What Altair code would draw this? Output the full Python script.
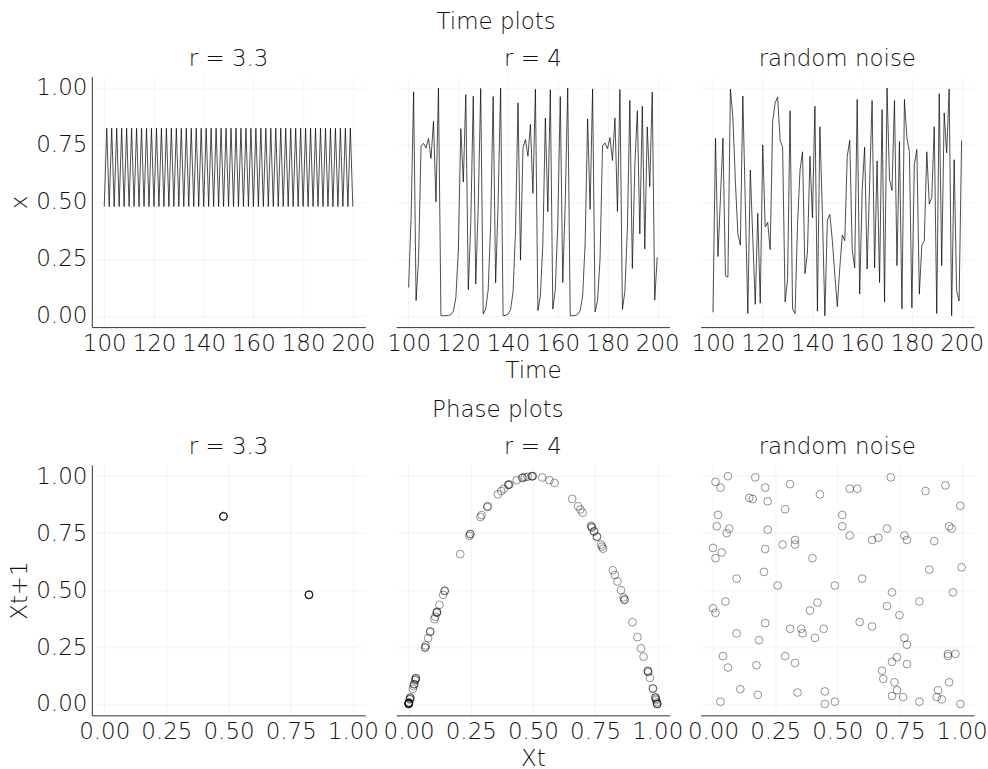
import altair as alt
import pandas as pd

# Time index of the plotted iterations
TIME = list(range(100, 201))

# Logistic map, r = 3.3 (settled period-2 cycle)
R33 = [
    0.4794, 0.8236, 0.4794, 0.8236, 0.4794, 0.8236, 0.4794, 0.8236, 0.4794, 0.8236,
    0.4794, 0.8236, 0.4794, 0.8236, 0.4794, 0.8236, 0.4794, 0.8236, 0.4794, 0.8236,
    0.4794, 0.8236, 0.4794, 0.8236, 0.4794, 0.8236, 0.4794, 0.8236, 0.4794, 0.8236,
    0.4794, 0.8236, 0.4794, 0.8236, 0.4794, 0.8236, 0.4794, 0.8236, 0.4794, 0.8236,
    0.4794, 0.8236, 0.4794, 0.8236, 0.4794, 0.8236, 0.4794, 0.8236, 0.4794, 0.8236,
    0.4794, 0.8236, 0.4794, 0.8236, 0.4794, 0.8236, 0.4794, 0.8236, 0.4794, 0.8236,
    0.4794, 0.8236, 0.4794, 0.8236, 0.4794, 0.8236, 0.4794, 0.8236, 0.4794, 0.8236,
    0.4794, 0.8236, 0.4794, 0.8236, 0.4794, 0.8236, 0.4794, 0.8236, 0.4794, 0.8236,
    0.4794, 0.8236, 0.4794, 0.8236, 0.4794, 0.8236, 0.4794, 0.8236, 0.4794, 0.8236,
    0.4794, 0.8236, 0.4794, 0.8236, 0.4794, 0.8236, 0.4794, 0.8236, 0.4794, 0.8236,
    0.4794,
]

# Logistic map, r = 4 (chaotic)
R4 = [
    0.124, 0.435, 0.983, 0.0665, 0.248, 0.746, 0.757, 0.736, 0.778, 0.691,
    0.854, 0.500, 1.000, 0.0000, 0.0001, 0.0003, 0.0013, 0.0050, 0.0200, 0.0785,
    0.289, 0.821, 0.587, 0.9705, 0.1144, 0.405, 0.964, 0.139, 0.479, 0.998,
    0.0073, 0.029, 0.113, 0.400, 0.9625, 0.1445, 0.495, 0.9999, 0.0004, 0.0017,
    0.0067, 0.0267, 0.104, 0.3725, 0.9348, 0.2439, 0.7377, 0.774, 0.700, 0.840,
    0.5376, 0.9943, 0.0224, 0.0873, 0.3187, 0.8685, 0.457, 0.9926, 0.0292, 0.1136,
    0.4027, 0.9621, 0.1457, 0.4978, 1.0000, 0.0001, 0.0003, 0.0014, 0.0056, 0.0221,
    0.0865, 0.3161, 0.8647, 0.4674, 0.9958, 0.0169, 0.0664, 0.248, 0.7459, 0.7582,
    0.7334, 0.7821, 0.6817, 0.868, 0.4584, 0.9931, 0.0276, 0.1072, 0.3829, 0.9451,
    0.2076, 0.658, 0.9003, 0.3589, 0.9203, 0.2934, 0.8293, 0.5663, 0.9824, 0.069,
    0.257,
]

# Uniform random noise for comparison
NOISE = [
    0.015, 0.78, 0.26, 0.52, 0.78, 0.175, 0.17, 0.995, 0.87, 0.59,
    0.36, 0.31, 0.965, 0.49, 0.01, 0.64, 0.34, 0.05, 0.45, 0.055,
    0.75, 0.39, 0.41, 0.29, 0.855, 0.935, 0.96, 0.77, 0.74, 0.06,
    0.16, 0.90, 0.03, 0.01, 0.40, 0.64, 0.72, 0.185, 0.28, 0.70,
    0.43, 0.92, 0.02, 0.83, 0.45, 0.00, 0.42, 0.445, 0.33, 0.18,
    0.04, 0.21, 0.355, 0.33, 0.70, 0.77, 0.29, 0.21, 0.95, 0.095,
    0.55, 0.74, 0.205, 0.58, 0.945, 0.21, 0.68, 0.146, 0.905, 0.06,
    1.00, 0.60, 0.55, 0.945, 0.22, 0.765, 0.03, 0.95, 0.78, 0.72,
    0.035, 0.665, 0.73, 0.095, 0.31, 0.33, 0.72, 0.49, 0.52, 0.83,
    0.01, 0.975, 0.22, 0.89, 0.715, 0.995, 0.00, 0.685, 0.11, 0.065,
    0.77,
]

PANEL_TITLES = ["r = 3.3", "r = 4", "random noise"]
SERIES = [R33, R4, NOISE]
# the r = 3.3 cycle stacks 50 circles on each of its two points
POINT_OPACITY = [0.06, 0.7, 0.7]

TIME_TICKS = [100, 120, 140, 160, 180, 200]
UNIT_TICKS = [0.0, 0.25, 0.5, 0.75, 1.0]

FONT = "DejaVu Sans"
WEIGHT = 200
FS = 23
TXT = "#111111"
W, H = 274, 251


def y_axis(show, title):
    if show:
        return alt.Axis(values=UNIT_TICKS, format=".2f", title=title,
                        domain=True, labels=True)
    return alt.Axis(values=UNIT_TICKS, title=None, domain=False, labels=False)


def time_panel(values, name, i):
    df = pd.DataFrame({"Time": TIME, "x": values})
    return alt.Chart(df).mark_line(color="black", strokeWidth=0.7).encode(
        x=alt.X("Time:Q", scale=alt.Scale(domain=[95, 205], nice=False, zero=False),
                axis=alt.Axis(values=TIME_TICKS, format="d",
                              title="Time" if i == 1 else None)),
        y=alt.Y("x:Q", scale=alt.Scale(domain=[-0.05, 1.05], nice=False),
                axis=y_axis(i == 0, "x")),
    ).properties(width=W, height=H, title=name)


def phase_panel(values, name, i):
    df = pd.DataFrame({"Xt": values[:-1], "Xt1": values[1:]})
    return alt.Chart(df).mark_point(
        shape="circle", filled=False, color="black", size=60,
        strokeWidth=0.6, opacity=POINT_OPACITY[i],
    ).encode(
        x=alt.X("Xt:Q", scale=alt.Scale(domain=[-0.05, 1.05], nice=False),
                axis=alt.Axis(values=UNIT_TICKS, format=".2f",
                              title="Xt" if i == 1 else None)),
        y=alt.Y("Xt1:Q", scale=alt.Scale(domain=[-0.05, 1.05], nice=False),
                axis=y_axis(i == 0, "Xt+1")),
    ).properties(width=W, height=H, title=name)


def row_title(text):
    return alt.TitleParams(text, offset=14)


time_row = alt.hconcat(
    *[time_panel(v, n, i) for i, (v, n) in enumerate(zip(SERIES, PANEL_TITLES))],
    spacing=31, bounds="flush",
).properties(title=row_title("Time plots"))

phase_row = alt.hconcat(
    *[phase_panel(v, n, i) for i, (v, n) in enumerate(zip(SERIES, PANEL_TITLES))],
    spacing=31, bounds="flush",
).properties(title=row_title("Phase plots"))

chart = alt.vconcat(time_row, phase_row, spacing=17).properties(
    padding={"left": 8, "top": 10, "right": 0, "bottom": 0},
    background="white",
).configure_view(stroke=None).configure_axis(
    labelFont=FONT, titleFont=FONT, labelFontSize=FS, titleFontSize=FS,
    labelFontWeight=WEIGHT, titleFontWeight=WEIGHT,
    labelColor=TXT, titleColor=TXT,
    grid=True, gridColor="#f0f0f0", gridWidth=0.8,
    domainColor="#333333", domainWidth=1, ticks=False,
    labelPadding=5, titlePadding=4,
).configure_title(
    font=FONT, fontSize=FS, fontWeight=WEIGHT, color=TXT, anchor="middle",
    offset=6,
)

chart.save("out.html", embed_options={"renderer": "svg", "actions": False})
